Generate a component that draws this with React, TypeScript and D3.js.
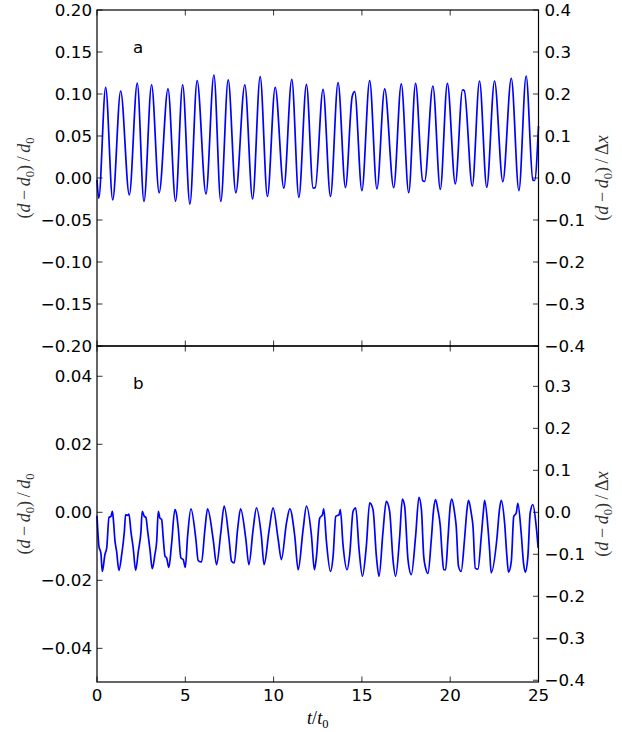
import React from "react";
import * as d3 from "d3";

// ---------- data ----------
const xTicks = [0, 5, 10, 15, 20, 25];
const topLeftTicks = [-0.2, -0.15, -0.1, -0.05, 0, 0.05, 0.1, 0.15, 0.2];
const topRightTicks = [-0.4, -0.3, -0.2, -0.1, 0, 0.1, 0.2, 0.3, 0.4];
const botLeftTicks = [-0.04, -0.02, 0, 0.02, 0.04];
const botRightTicks = [-0.4, -0.3, -0.2, -0.1, 0, 0.1, 0.2, 0.3];

const topLeftDomain = [-0.2, 0.2];
const topRightDomain = [-0.4, 0.4];
const botLeftDomain = [-0.0499, 0.0489];
const botRightDomain = [-0.4042, 0.3961];

// panel a: time and value
const topT = [
  0, 0.1, 0.49, 0.89, 1.34, 1.83, 2.28, 2.66, 3.09, 3.52, 4.02, 4.45, 4.85, 5.26,
  5.67, 6.17, 6.62, 7.01, 7.43, 7.86, 8.37, 8.81, 9.24, 9.65, 10.09, 10.58, 11.03,
  11.43, 11.86, 12.24, 12.36, 12.8, 13.22, 13.65, 14.07, 14.45, 14.59, 15.0, 15.44,
  15.85, 16.29, 16.8, 17.23, 17.65, 18.04, 18.44, 18.55, 19.02, 19.44, 19.84, 20.29,
  20.7, 20.8, 21.25, 21.66, 22.07, 22.51, 22.98, 23.46, 23.89, 24.3, 24.68, 24.78, 25,
];
const topV = [
  -0.002, -0.024, 0.108, -0.026, 0.1036, -0.02, 0.113, -0.028, 0.111, -0.0175, 0.106,
  -0.0275, 0.111, -0.031, 0.116, -0.019, 0.1226, -0.028, 0.1167, -0.0175, 0.111,
  -0.025, 0.1206, -0.022, 0.108, -0.012, 0.1175, -0.023, 0.1115, -0.012, -0.0115,
  0.1056, -0.022, 0.1135, -0.0115, 0.097, 0.1028, -0.015, 0.116, -0.013, 0.106,
  -0.0115, 0.112, -0.0175, 0.1127, -0.003, -0.004, 0.1095, -0.0135, 0.1127, -0.007,
  0.1048, 0.104, -0.0095, 0.1155, -0.011, 0.1155, -0.0044, 0.1187, -0.015, 0.1214,
  -0.0024, -0.003, 0.062,
];

// panel b: time and value
const botT = [
  0, 0.11, 0.22, 0.3, 0.45, 0.55, 0.68, 0.79, 0.87, 0.92, 1.02, 1.11, 1.24, 1.4, 1.55,
  1.62, 1.73, 1.81, 1.92, 2.05, 2.19, 2.34, 2.49, 2.56, 2.68, 2.77, 2.87, 3.0, 3.13,
  3.28, 3.38, 3.47, 3.56, 3.66, 3.75, 3.85, 3.94, 4.07, 4.22, 4.41, 4.51, 4.6, 4.75,
  4.88, 5.0, 5.13, 5.32, 5.6, 5.73, 5.92, 6.11, 6.26, 6.58, 6.77, 7.01, 7.2, 7.48,
  7.62, 7.77, 7.96, 8.13, 8.43, 8.6, 8.84, 9.03, 9.31, 9.46, 9.75, 9.97, 10.26, 10.44,
  10.73, 10.92, 11.2, 11.39, 11.67, 11.86, 12.14, 12.31, 12.42, 12.61, 12.77, 12.84,
  12.99, 13.22, 13.37, 13.52, 13.71, 13.78, 13.93, 14.16, 14.31, 14.5, 14.65, 14.84,
  15.03, 15.25, 15.44, 15.63, 15.82, 15.97, 16.19, 16.38, 16.57, 16.76, 16.91, 17.14,
  17.29, 17.42, 17.61, 17.8, 18.04, 18.23, 18.37, 18.5, 18.61, 18.74, 18.93, 19.06,
  19.17, 19.3, 19.44, 19.55, 19.63, 19.74, 19.87, 20.0, 20.09, 20.25, 20.34, 20.47,
  20.62, 20.81, 20.95, 21.04, 21.19, 21.29, 21.42, 21.57, 21.76, 21.89, 21.95, 22.13,
  22.23, 22.32, 22.64, 22.79, 22.89, 23.08, 23.21, 23.3, 23.46, 23.6, 23.74, 23.83,
  24.02, 24.15, 24.25, 24.4, 24.53, 24.68, 24.87, 24.98,
];
const botV = [
  -0.001, -0.01, -0.012, -0.0174, -0.0124, -0.0105, -0.0015, -0.0012, 0.0003, -0.0017,
  -0.0085, -0.0115, -0.0171, -0.0124, -0.0056, -0.0007, -0.0009, -0.0005, -0.0056,
  -0.0105, -0.0171, -0.0115, -0.0056, 0.0003, -0.0012, -0.0015, -0.0056, -0.011,
  -0.0166, -0.0124, -0.0085, 0.0003, -0.0017, -0.0021, -0.0075, -0.0129, -0.0134,
  -0.0162, -0.0095, 0.0008, -0.0007, -0.0046, -0.0134, -0.0139, -0.0162, -0.0071,
  0.001, -0.008, -0.0142, -0.0146, -0.0051, 0.001, -0.008, -0.0154, -0.006, 0.0018,
  -0.008, -0.0144, -0.0149, -0.0051, 0.001, -0.008, -0.0154, -0.0051, 0.0013, -0.0071,
  -0.0154, -0.0051, 0.0013, -0.008, -0.0139, -0.0031, 0.001, -0.0071, -0.0169, -0.0051,
  0.0018, -0.0066, -0.0169, -0.0134, -0.0017, -0.0007, 0.001, -0.0085, -0.0174, -0.0129,
  -0.0012, -0.0007, 0.0008, -0.0095, -0.0169, -0.0124, 0.0003, 0.0013, -0.011, -0.0188,
  -0.01, 0.0028, 0.0008, -0.0129, -0.0188, -0.006, 0.0032, 0.0003, -0.0139, -0.0188,
  -0.0071, 0.0039, 0.0018, -0.0139, -0.0183, -0.0071, 0.0044, 0.0008, -0.0129, -0.0164,
  -0.018, -0.008, 0.0008, 0.0037, 0.0008, -0.0041, -0.0129, -0.0169, -0.0169, -0.008,
  0.0018, 0.0039, -0.0002, -0.0041, -0.0159, -0.0174, -0.008, 0.0008, 0.0035, -0.0002,
  -0.0041, -0.0164, -0.0167, -0.0071, 0.0008, 0.0035, -0.0041, -0.011, -0.0178, -0.008,
  0.0008, 0.0035, -0.0031, -0.0129, -0.0176, -0.0144, -0.0012, -0.0002, 0.0026, -0.0061,
  -0.0149, -0.0176, -0.0129, -0.0002, 0.0023, -0.0041, -0.0105,
];

// ---------- layout ----------
const W = 622;
const H = 732;
const X0 = 97;
const X1 = 538.5;
const YT = 10;
const YM = 346;
const YB = 682;
const FS = 16.7;
const TICK = 5.5;
const SANS = "'DejaVu Sans', sans-serif";
const SERIF = "'Liberation Serif', 'DejaVu Serif', serif";

const fmt2 = d3.format(".2f");
const fmt1 = d3.format(".1f");

function MathLabel({ x, y, denom }: { x: number; y: number; denom: "d" | "dx" }) {
  return (
    <text
      transform={`translate(${x},${y}) rotate(-90)`}
      textAnchor="middle"
      fontFamily={SERIF}
      fontSize={18}
      fill="#333"
    >
      <tspan>(</tspan>
      <tspan fontStyle="italic">d</tspan>
      <tspan>{"\u2009−\u2009"}</tspan>
      <tspan fontStyle="italic">d</tspan>
      <tspan fontSize={12.5} dy={4}>0</tspan>
      <tspan dy={-4}>{")\u2009/\u2009"}</tspan>
      {denom === "d" ? (
        <>
          <tspan fontStyle="italic">d</tspan>
          <tspan fontSize={12.5} dy={4}>0</tspan>
        </>
      ) : (
        <>
          <tspan>Δ</tspan>
          <tspan fontStyle="italic">x</tspan>
        </>
      )}
    </text>
  );
}

function Panel({
  top, bottom, leftDomain, rightDomain, leftTicks, rightTicks, leftFmt, rightFmt, t, v, tag, showX,
}: any) {
  const x = d3.scaleLinear().domain([0, 25]).range([X0, X1]);
  const yl = d3.scaleLinear().domain(leftDomain).range([bottom, top]);
  const yr = d3.scaleLinear().domain(rightDomain).range([bottom, top]);
  const pts: [number, number][] = t.map((tt: number, i: number) => [tt, v[i]]);
  const line = d3
    .line<[number, number]>()
    .x((d) => x(d[0]))
    .y((d) => yl(d[1]))
    .curve(d3.curveMonotoneX);
  const midY = (top + bottom) / 2;
  return (
    <g>
      <path d={line(pts) || ""} fill="none" stroke="#0000ff" strokeWidth={1.7} strokeLinejoin="round" />
      {xTicks.map((tk) => (
        <g key={"x" + tk}>
          <line x1={x(tk)} x2={x(tk)} y1={bottom} y2={bottom - TICK} stroke="#000" strokeWidth={0.8} />
          <line x1={x(tk)} x2={x(tk)} y1={top} y2={top + TICK} stroke="#000" strokeWidth={0.8} />
          {showX && (
            <text x={x(tk)} y={bottom + 19} textAnchor="middle" fontFamily={SANS} fontSize={FS}>
              {tk}
            </text>
          )}
        </g>
      ))}
      {leftTicks.map((tk: number) => (
        <g key={"l" + tk}>
          <line x1={X0} x2={X0 + TICK} y1={yl(tk)} y2={yl(tk)} stroke="#000" strokeWidth={0.8} />
          <text x={X0 - 5} y={yl(tk)} dy="0.36em" textAnchor="end" fontFamily={SANS} fontSize={FS}>
            {leftFmt(tk)}
          </text>
        </g>
      ))}
      {rightTicks.map((tk: number) => (
        <g key={"r" + tk}>
          <line x1={X1} x2={X1 - TICK} y1={yr(tk)} y2={yr(tk)} stroke="#000" strokeWidth={0.8} />
          <text x={X1 + 6} y={yr(tk)} dy="0.36em" textAnchor="start" fontFamily={SANS} fontSize={FS}>
            {rightFmt(tk)}
          </text>
        </g>
      ))}
      <rect x={X0} y={top} width={X1 - X0} height={bottom - top} fill="none" stroke="#000" strokeWidth={1.2} />
      <text x={133} y={top + 43} fontFamily={SANS} fontSize={FS}>
        {tag}
      </text>
      <MathLabel x={30} y={midY} denom="d" />
      <MathLabel x={608} y={midY} denom="dx" />
    </g>
  );
}

export default function App() {
  return (
    <svg
      width={W}
      height={H}
      viewBox={`0 0 ${W} ${H}`}
      style={{ position: "absolute", left: 0, top: 0, background: "#fff" }}
    >
      <rect x={0} y={0} width={W} height={H} fill="#fff" />
      <Panel
        top={YT}
        bottom={YM}
        leftDomain={topLeftDomain}
        rightDomain={topRightDomain}
        leftTicks={topLeftTicks}
        rightTicks={topRightTicks}
        leftFmt={fmt2}
        rightFmt={fmt1}
        t={topT}
        v={topV}
        tag="a"
        showX={false}
      />
      <Panel
        top={YM}
        bottom={YB}
        leftDomain={botLeftDomain}
        rightDomain={botRightDomain}
        leftTicks={botLeftTicks}
        rightTicks={botRightTicks}
        leftFmt={fmt2}
        rightFmt={fmt1}
        t={botT}
        v={botV}
        tag="b"
        showX={true}
      />
      <text x={(X0 + X1) / 2} y={724} textAnchor="middle" fontFamily={SERIF} fontSize={18}>
        <tspan fontStyle="italic">t</tspan>
        <tspan>/</tspan>
        <tspan fontStyle="italic">t</tspan>
        <tspan fontSize={12.5} dy={4}>0</tspan>
      </text>
    </svg>
  );
}
